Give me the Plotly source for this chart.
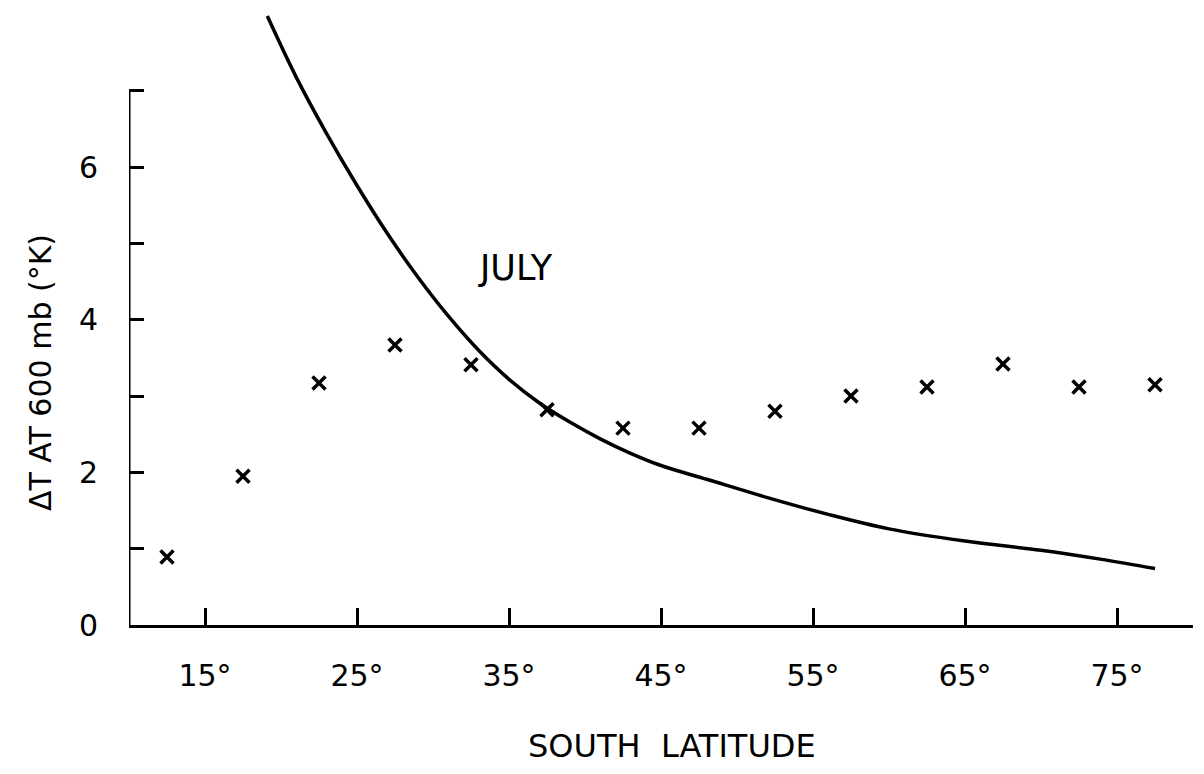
import plotly.graph_objects as go

# Observed data (x marks)
lat_obs = [12.5, 17.5, 22.5, 27.5, 32.5, 37.5, 42.5, 47.5, 52.5, 57.5, 62.5, 67.5, 72.5, 77.5]
dT_obs = [0.89, 1.95, 3.17, 3.67, 3.41, 2.82, 2.58, 2.58, 2.80, 3.00, 3.12, 3.42, 3.12, 3.15]

# Theoretical curve (solid line)
lat_curve = [19.1, 21, 23, 25, 27, 29, 31, 33, 35, 37, 39, 41, 43, 45, 48, 52, 56, 60, 65, 70, 74, 77.5]
dT_curve = [7.98, 7.18, 6.44, 5.76, 5.13, 4.56, 4.05, 3.60, 3.22, 2.91, 2.66, 2.44, 2.25, 2.09,
            1.91, 1.67, 1.45, 1.26, 1.10, 0.98, 0.86, 0.74]

x_tickvals = [15, 25, 35, 45, 55, 65, 75]
x_ticktext = ["15°", "25°", "35°", "45°", "55°", "65°", "75°"]
y_tickvals = [0, 1, 2, 3, 4, 5, 6, 7]
y_ticktext = ["0", "", "2", "", "4", "", "6", ""]

FONT = "DejaVu Sans"

fig = go.Figure()
fig.add_trace(go.Scatter(
    x=lat_curve, y=dT_curve, mode="lines",
    line=dict(color="black", width=3.5, shape="spline", smoothing=1.0),
    showlegend=False, hoverinfo="skip"))
fig.add_trace(go.Scatter(
    x=lat_obs, y=dT_obs, mode="markers",
    marker=dict(symbol="x-thin", size=13, color="black",
                line=dict(color="black", width=3.5)),
    showlegend=False))

# y axis line only from 0 to 7
fig.add_shape(type="line", xref="x", yref="y", x0=10, x1=10, y0=0, y1=7,
              line=dict(color="black", width=3))

fig.update_layout(
    width=1188, height=758,
    margin=dict(l=121, r=3, t=0, b=141, pad=0),
    paper_bgcolor="white", plot_bgcolor="white",
    font=dict(family=FONT, color="black"),
    xaxis=dict(range=[10, 80], showgrid=False, zeroline=False,
               showline=True, linecolor="black", linewidth=3,
               ticks="inside", ticklen=17, tickwidth=2.5, tickcolor="black",
               tickvals=x_tickvals, ticktext=x_ticktext,
               tickfont=dict(size=30, family=FONT), ticklabelstandoff=22),
    yaxis=dict(range=[0, 8.086], showgrid=False, zeroline=False,
               showline=False,
               ticks="inside", ticklen=15, tickwidth=2.5, tickcolor="black",
               tickvals=y_tickvals, ticktext=y_ticktext,
               tickfont=dict(size=30, family=FONT), ticklabelstandoff=30),
    annotations=[
        dict(text="JULY", x=35.4, y=4.68, xref="x", yref="y", showarrow=False,
             font=dict(size=35, family=FONT)),
        dict(text="SOUTH  LATITUDE", x=0.5103, y=-0.2285, xref="paper", yref="paper",
             showarrow=False, xanchor="center", yanchor="bottom", borderpad=0,
             font=dict(size=32, family=FONT)),
        dict(text="ΔT AT 600 mb (°K)", x=-0.0836, y=0.4084, xref="paper", yref="paper",
             showarrow=False, xanchor="center", yanchor="middle", textangle=-90,
             font=dict(size=30, family=FONT)),
    ],
)

fig.write_html("out.html")
